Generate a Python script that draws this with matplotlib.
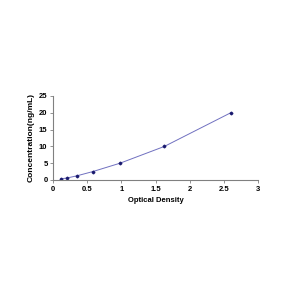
import matplotlib
matplotlib.use("Agg")
import matplotlib.pyplot as plt

od = [0.11, 0.21, 0.35, 0.58, 0.98, 1.63, 2.60]
conc = [0.3125, 0.625, 1.25, 2.5, 5, 10, 20]
xticks = [0, 0.5, 1, 1.5, 2, 2.5, 3]
yticks = [0, 5, 10, 15, 20, 25]

plt.rcParams['font.family'] = ['Liberation Sans', 'DejaVu Sans']
fig = plt.figure(figsize=(3, 3), dpi=100)
ax = fig.add_axes([0.177, 0.40, 0.683, 0.28])
ax.plot(od, conc, color='#7070c0', lw=0.7)
ax.plot(od, conc, linestyle='none', marker='D', ms=1.4, color='#1a1a6e')
ax.set_xlim(0, 3)
ax.set_ylim(0, 25)
ax.set_xticks(xticks)
ax.set_xticklabels(['0', '0.5', '1', '1.5', '2', '2.5', '3'])
ax.set_yticks(yticks)
for s in ['top', 'right']:
    ax.spines[s].set_visible(False)
for s in ['left', 'bottom']:
    ax.spines[s].set_color('#808080')
    ax.spines[s].set_linewidth(0.8)
ax.tick_params(axis='both', length=2, width=0.6, color='#808080', labelsize=5.5, pad=2)
for lbl in ax.get_xticklabels() + ax.get_yticklabels():
    lbl.set_fontweight('bold')
ax.set_xlabel('Optical Density', fontsize=5.5, fontweight='bold', labelpad=3)
ax.set_ylabel('Concentration(ng/mL)', fontsize=6, fontweight='bold', labelpad=3)
fig.savefig('out.png', dpi=100)
